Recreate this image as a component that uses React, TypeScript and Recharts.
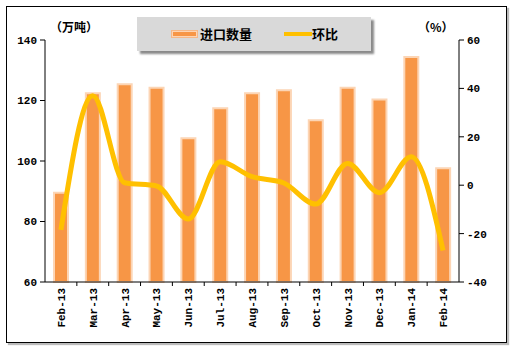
import {
  ComposedChart,
  Bar,
  Line,
  XAxis,
  YAxis,
  Legend,
} from "recharts";

const months = [
  "Feb-13", "Mar-13", "Apr-13", "May-13", "Jun-13", "Jul-13", "Aug-13",
  "Sep-13", "Oct-13", "Nov-13", "Dec-13", "Jan-14", "Feb-14",
];
// 进口数量 (万吨)
const volume = [89.5, 122.4, 125.4, 124.2, 107.5, 117.4, 122.4, 123.4, 113.5, 124.2, 120.3, 134.4, 97.6];
// 环比 (%)
const mom = [-18.5, 37, 1, -0.3, -14, 9.7, 3.5, 0.9, -7.8, 9, -3.1, 11.8, -27];

const leftTicks = [60, 80, 100, 120, 140];
const rightTicks = [-40, -20, 0, 20, 40, 60];

const data = months.map((m, i) => ({ month: m, volume: volume[i], mom: mom[i] }));

const W = 510;
const H = 354;
const MARGIN = { top: 40, right: 16, bottom: 12, left: 10 };
const Y_W = 35;
const BAND = (W - MARGIN.left - MARGIN.right - 2 * Y_W) / months.length;

const tickFont = {
  fontFamily: "'Liberation Mono', monospace",
  fontWeight: 700,
  fontSize: 11,
  fill: "#000",
};

const MonthTick = (props: any) => {
  const { x, y, payload, index } = props;
  return (
    <g transform={`translate(${x},${y})`}>
      {index < months.length - 1 && (
        <line x1={BAND / 2} y1={0} x2={BAND / 2} y2={4} stroke="#000" />
      )}
      <text transform="rotate(-90)" x={-6} y={0} dy={4} textAnchor="end" {...tickFont}>
        {payload.value}
      </text>
    </g>
  );
};

const LegendBox = () => (
  <div
    style={{
      width: 234,
      height: 34,
      background: "#D9D9D9",
      boxShadow: "3px 3px 2px #8a8a8a",
      position: "relative",
      fontFamily: "'Noto Sans CJK SC', sans-serif",
      fontWeight: 700,
      fontSize: 13,
      color: "#000",
    }}
  >
    <div
      style={{
        position: "absolute",
        left: 35,
        top: 14,
        width: 23,
        height: 4,
        background: "#F79646",
        border: "1px solid #FCD5B5",
        outline: "1px solid #F5B888",
      }}
    />
    <span style={{ position: "absolute", left: 63, top: 7, lineHeight: "20px" }}>进口数量</span>
    <div
      style={{
        position: "absolute",
        left: 147,
        top: 15,
        width: 28,
        height: 4,
        background: "#FFC000",
      }}
    />
    <span style={{ position: "absolute", left: 175, top: 7, lineHeight: "20px" }}>环比</span>
  </div>
);

export default function App() {
  return (
    <div style={{ position: "absolute", left: 0, top: 0, width: W, height: H, background: "#fff" }}>
      <div
        style={{
          position: "absolute",
          left: 6,
          top: 6,
          width: 499,
          height: 335,
          border: "1px solid #000",
          boxShadow: "2px 2px 1px #bbb",
        }}
      />
      <div
        style={{
          position: "absolute",
          left: 50,
          top: 18,
          fontFamily: "'Noto Sans CJK SC', sans-serif",
          fontWeight: 700,
          fontSize: 12,
        }}
      >
        （万吨）
      </div>
      <div
        style={{
          position: "absolute",
          left: 418,
          top: 18,
          fontFamily: "'Noto Sans CJK SC', sans-serif",
          fontWeight: 700,
          fontSize: 12,
        }}
      >
        （%）
      </div>
      <ComposedChart
        width={W}
        height={H}
        data={data}
        margin={MARGIN}
        style={{ position: "absolute", left: 0, top: 0 }}
      >
        <XAxis
          dataKey="month"
          height={60}
          interval={0}
          tickLine={false}
          tickSize={0}
          tickMargin={0}
          axisLine={{ stroke: "#000" }}
          tick={<MonthTick />}
        />
        <YAxis
          yAxisId="left"
          width={Y_W}
          domain={[60, 140]}
          ticks={leftTicks}
          tickSize={5}
          tickMargin={3}
          axisLine={{ stroke: "#000" }}
          tickLine={{ stroke: "#000" }}
          tick={tickFont}
        />
        <YAxis
          yAxisId="right"
          orientation="right"
          width={Y_W}
          domain={[-40, 60]}
          ticks={rightTicks}
          tickSize={5}
          tickMargin={3}
          axisLine={{ stroke: "#000" }}
          tickLine={{ stroke: "#000" }}
          tick={tickFont}
        />
        <Legend
          verticalAlign="middle"
          align="center"
          wrapperStyle={{ left: 137, top: 17, width: 234, height: 34 }}
          content={() => <LegendBox />}
        />
        <Bar
          yAxisId="left"
          dataKey="volume"
          name="进口数量"
          barSize={14}
          fill="#F79646"
          stroke="#FCD5B5"
          strokeWidth={2}
          isAnimationActive={false}
        />
        <Line
          yAxisId="right"
          dataKey="mom"
          name="环比"
          type="monotone"
          stroke="#FFC000"
          strokeWidth={5}
          dot={false}
          activeDot={false}
          isAnimationActive={false}
        />
      </ComposedChart>
    </div>
  );
}
